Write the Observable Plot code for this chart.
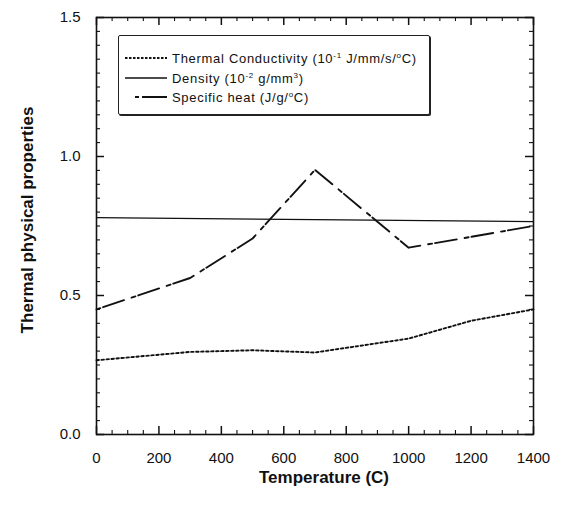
<!DOCTYPE html>
<html>
<head>
<meta charset="utf-8">
<script src="https://cdn.jsdelivr.net/npm/d3@7"></script>
<script src="https://cdn.jsdelivr.net/npm/@observablehq/plot@0.6"></script>
<style>
  html, body { margin: 0; padding: 0; background: #fff; }
  #wrap { position: relative; width: 568px; height: 507px; font-family: "Liberation Sans", Arial, sans-serif; }
  #legend { position: absolute; left: 118px; top: 35px; width: 310px; height: 78px; border: 1px solid #222;
    box-shadow: 1px 1px 0 #222; border-radius: 2px; background: #fff; font-size: 13px; letter-spacing: 0.7px; color: #111; }
  .row { position: absolute; left: 6px; height: 16px; display: flex; align-items: center; }
  .row svg { margin-right: 5px; }
  sup { font-size: 8px; vertical-align: 5px; line-height: 0; }
</style>
</head>
<body>
<div id="wrap"><div id="chart"></div>
<div id="legend">
  <div class="row" style="top:14px"><svg width="42" height="6"><line x1="0" y1="3" x2="42" y2="3" stroke="#111" stroke-width="1.8" stroke-dasharray="2.5,1.5"/></svg><span>Thermal Conductivity (10<sup>-1</sup> J/mm/s/<sup>o</sup>C)</span></div>
  <div class="row" style="top:34px"><svg width="42" height="6"><line x1="0" y1="3" x2="42" y2="3" stroke="#111" stroke-width="1.3"/></svg><span>Density (10<sup>-2</sup> g/mm<sup>3</sup>)</span></div>
  <div class="row" style="top:53px"><svg width="42" height="6"><line x1="10" y1="3" x2="42" y2="3" stroke="#111" stroke-width="1.8" stroke-dasharray="4,3,25,8"/></svg><span>Specific heat (J/g/<sup>o</sup>C)</span></div>
</div>
</div>
<script>
// Data
const condTemp = [0, 300, 500, 700, 1000, 1200, 1400];
const condVal  = [0.267, 0.297, 0.303, 0.295, 0.345, 0.409, 0.45];
const densTemp = [0, 700, 1400];
const densVal  = [0.78, 0.773, 0.766];
const heatTemp = [0, 300, 500, 700, 1000, 1400];
const heatVal  = [0.45, 0.563, 0.705, 0.952, 0.672, 0.75];
const xTicks = [0, 200, 400, 600, 800, 1000, 1200, 1400];
const yTicks = [0.0, 0.5, 1.0, 1.5];
const xTitle = "Temperature (C)";
const yTitle = "Thermal physical properties";

const cond = condTemp.map((t, i) => ({t, v: condVal[i]}));
const dens = densTemp.map((t, i) => ({t, v: densVal[i]}));
const heat = heatTemp.map((t, i) => ({t, v: heatVal[i]}));
const xMinor = d3.range(0, 1401, 50).filter(v => v % 200 !== 0);
const yMinor = d3.range(0, 31).map(i => +(i * 0.05).toFixed(2)).filter(v => Math.abs(v * 2 - Math.round(v * 2)) > 1e-6);
const [xLo, xHi] = [0, 1400];
const [yLo, yHi] = [0, 1.5];

// inward tick marks on all four sides, positioned by the scales
function xTickMarks(ticks, len, sw) {
  return [
    Plot.ruleX(ticks, {x: d => d, y1: yLo, y2: yLo, insetTop: -len, stroke: "#111", strokeWidth: sw}),
    Plot.ruleX(ticks, {x: d => d, y1: yHi, y2: yHi, insetBottom: -len, stroke: "#111", strokeWidth: sw})
  ];
}
function yTickMarks(ticks, len, sw) {
  return [
    Plot.ruleY(ticks, {y: d => d, x1: xLo, x2: xLo, insetRight: -len, stroke: "#111", strokeWidth: sw}),
    Plot.ruleY(ticks, {y: d => d, x1: xHi, x2: xHi, insetLeft: -len, stroke: "#111", strokeWidth: sw})
  ];
}

const chart = Plot.plot({
  width: 568, height: 507,
  marginLeft: 96, marginRight: 35, marginTop: 17, marginBottom: 73,
  style: {fontFamily: "'Liberation Sans', Arial, sans-serif", color: "#111"},
  x: {domain: [xLo, xHi]},
  y: {domain: [yLo, yHi]},
  marks: [
    Plot.frame({stroke: "#111", strokeWidth: 1.6}),
    Plot.axisX({ticks: xTicks, tickSize: 0, tickPadding: 18, tickFormat: d => String(d), fontSize: 15, label: null, style: {letterSpacing: "0.8px"}}),
    Plot.axisY({ticks: yTicks, tickSize: 0, tickPadding: 16, tickFormat: d => d.toFixed(1), fontSize: 15, label: null, style: {letterSpacing: "0.8px"}}),
    ...xTickMarks(xTicks, 8, 1.5),
    ...xTickMarks(xMinor, 4, 1.1),
    ...yTickMarks(yTicks, 8, 1.5),
    ...yTickMarks(yMinor, 4, 1.1),
    Plot.line(dens, {x: "t", y: "v", stroke: "#111", strokeWidth: 1.2}),
    Plot.line(cond, {x: "t", y: "v", stroke: "#111", strokeWidth: 1.9, strokeDasharray: "2.5,2.5"}),
    Plot.line(heat, {x: "t", y: "v", stroke: "#111", strokeWidth: 1.9, strokeDasharray: "4,3,22,8"}),
    Plot.text([xTitle], {frameAnchor: "bottom", dy: 48, dx: 9, fontSize: 17, fontWeight: "bold", fill: "#111", style: {letterSpacing: "2px"}}),
    Plot.text([yTitle], {frameAnchor: "left", textAnchor: "middle", dx: -69, dy: -6, rotate: -90, fontSize: 17, fontWeight: "bold", fill: "#111", style: {letterSpacing: "1px"}})
  ]
});
document.getElementById("chart").appendChild(chart);
</script>
</body>
</html>
